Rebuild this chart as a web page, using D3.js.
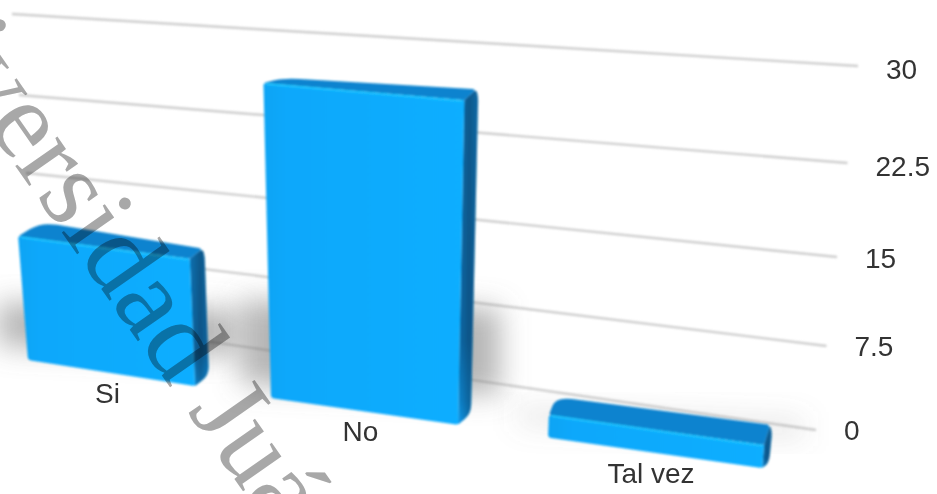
<!DOCTYPE html>
<html>
<head>
<meta charset="utf-8">
<script src="https://cdn.jsdelivr.net/npm/d3@7/dist/d3.min.js"></script>
<style>
html,body{margin:0;padding:0;background:#fff;overflow:hidden}
text{font-family:"Liberation Sans",Arial,sans-serif}
</style>
</head>
<body>
<svg id="chart" width="937" height="494"></svg>
<script>
// Survey answers
const categories = ["Si", "No", "Tal vez"];
const answers = [11, 28, 2];
const tickValues = [0, 7.5, 15, 22.5, 30];
const tickLabels = ["0", "7.5", "15", "22.5", "30"];
const watermark = "Universidad Juárez";

const svg = d3.select("#chart");

// The back wall is seen in perspective, so each end of a grid line has its own scale
const wallLeftY  = d3.scaleLinear().domain(tickValues).range([317, 248, 173, 95, 14]);
const wallRightY = d3.scaleLinear().domain(tickValues).range([430, 346, 257, 163, 66]);
const labelY     = d3.scaleLinear().domain(tickValues).range([440, 356, 268, 176, 79]);
const wallLeftX  = d3.scaleLinear().domain([0, 30]).range([40, 12]);
const wallRightX = d3.scaleLinear().domain([0, 30]).range([816, 858]);

// Bars stand on a floor line in front of the wall
const barLeft  = d3.scaleOrdinal().domain(categories).range([28, 271, 548]);
const barRight = d3.scaleOrdinal().domain(categories).range([195, 458, 762]);
const floorY   = d3.scaleLinear().domain([28, 271, 762]).range([360, 398, 468]);
const heightPx = d3.scaleLinear().domain([0, 28]).range([0, 315]);
const depthX   = d3.scaleOrdinal().domain(categories).range([15, 14, 8]);
const backLeftX = d3.scaleOrdinal().domain(categories).range([23, 20, 7]);
const depthTop = d3.scaleLinear().domain([2, 11, 28]).range([20, 10, 11]);
const backLeftY = d3.scaleLinear().domain([2, 11, 28]).range([18, 14, 5]);
const depthLow = d3.scaleLinear().domain([2, 11]).range([5, 11]).clamp(true);
const shadowH  = d3.scaleLinear().domain([2, 11, 28]).range([24, 52, 92]);
const vanishX = 375, lean = 0.00023;

function corner(cat, value, t, up) {
  const x = barLeft(cat) + (barRight(cat) - barLeft(cat)) * t;
  const h = up ? heightPx(value) * (1 + 0.03 * t) : 0;
  return [x + (x - vanishX) * lean * h, floorY(x) - h];
}

// Closed path whose corners are rounded by the given radii
function rounded(points, radii) {
  const n = points.length;
  let d = "";
  points.forEach((p, i) => {
    const a = points[(i - 1 + n) % n], b = points[(i + 1) % n], r = radii[i];
    const la = Math.hypot(a[0] - p[0], a[1] - p[1]), lb = Math.hypot(b[0] - p[0], b[1] - p[1]);
    const ra = Math.min(r, la / 2), rb = Math.min(r, lb / 2);
    const s = [p[0] + (a[0] - p[0]) * ra / la, p[1] + (a[1] - p[1]) * ra / la];
    const e = [p[0] + (b[0] - p[0]) * rb / lb, p[1] + (b[1] - p[1]) * rb / lb];
    d += (i ? "L" : "M") + s[0] + "," + s[1] + "Q" + p[0] + "," + p[1] + " " + e[0] + "," + e[1];
  });
  return d + "Z";
}

const defs = svg.append("defs");
defs.append("filter").attr("id", "soft").attr("x", "-50%").attr("y", "-50%").attr("width", "200%").attr("height", "200%")
  .append("feGaussianBlur").attr("stdDeviation", 14);
defs.append("filter").attr("id", "edge").attr("x", "-5%").attr("y", "-5%").attr("width", "110%").attr("height", "110%")
  .append("feGaussianBlur").attr("stdDeviation", 0.8);

const sideGrad = defs.append("linearGradient").attr("id", "sideFill").attr("x1", 0).attr("x2", 0).attr("y1", 0).attr("y2", 1);
[[0, "#0a72b2"], [0.75, "#0a6cab"], [0.93, "#0a86cf"], [1, "#0a9cf0"]]
  .forEach(s => sideGrad.append("stop").attr("offset", s[0]).attr("stop-color", s[1]));
const sideShade = defs.append("linearGradient").attr("id", "sideShade");
[[0, 0], [0.55, 0.4], [1, 0.12]]
  .forEach(s => sideShade.append("stop").attr("offset", s[0]).attr("stop-color", "#03304f").attr("stop-opacity", s[1]));
const frontGrad = defs.append("linearGradient").attr("id", "frontFill");
[[0, "#0ea4f4"], [0.12, "#0aa8fb"], [1, "#0aaeff"]]
  .forEach(s => frontGrad.append("stop").attr("offset", s[0]).attr("stop-color", s[1]));

// Grid lines and their value labels
const grid = svg.append("g");
grid.selectAll("line").data(tickValues).join("line")
  .attr("x1", wallLeftX).attr("y1", wallLeftY)
  .attr("x2", wallRightX).attr("y2", wallRightY)
  .attr("stroke", "#cfcfcf").attr("stroke-width", 2.4).attr("filter", "url(#edge)");
grid.selectAll("text").data(tickValues).join("text")
  .attr("x", d => wallRightX(d) + 28)
  .attr("y", labelY)
  .attr("font-size", 28).attr("fill", "#333")
  .text((d, i) => tickLabels[i]);

// Soft shadow thrown on the wall behind each bar
svg.append("g").selectAll("path").data(categories).join("path")
  .attr("d", (c, i) => {
    const v = answers[i], s = shadowH(v), l = barLeft(c) - 30, r = barRight(c) + 42;
    const yl = floorY(barLeft(c)), yr = floorY(barRight(c));
    return d3.line()([[l, yl - s - 6], [r, yr - s - 24], [r, yr - 30], [l, yl - 14]]) + "Z";
  })
  .attr("fill", "#7a7a7a")
  .attr("fill-opacity", (c, i) => i === 2 ? 0.2 : 0.55)
  .attr("filter", "url(#soft)");

// Bars: side, top and front faces
const bars = svg.append("g").selectAll("g").data(categories).join("g").attr("filter", "url(#edge)");

bars.each(function (c, i) {
  const v = answers[i], g = d3.select(this);
  const tl = corner(c, v, 0, true), tr = corner(c, v, 1, true);
  const bl = corner(c, v, 0, false), br = corner(c, v, 1, false);
  const dx = depthX(c), dt = depthTop(v), dl = depthLow(v);
  const backRight = [tr[0] + dx - 2, tr[1] - dt];
  const sidePts = [tr, backRight, [tr[0] + dx, tr[1] - dt + 8], [br[0] + dx - 1, br[1] - dl], br];

  g.append("path").attr("d", rounded(sidePts, [1, 4, 4, 9, 1])).attr("fill", "url(#sideFill)");
  g.append("path").attr("d", rounded(sidePts, [1, 4, 4, 9, 1])).attr("fill", "url(#sideShade)");
  g.append("path")
    .attr("d", rounded([tl, [tl[0] + backLeftX(c), tl[1] - backLeftY(v)], backRight, tr], [3, 16, 4, 1]))
    .attr("fill", "#0a83cf");
  g.append("path")
    .attr("d", rounded([tl, tr, br, bl], [2, 1, 2, 3]))
    .attr("fill", "url(#frontFill)");
  g.append("line")
    .attr("x1", tl[0] + 3).attr("y1", tl[1] + 1)
    .attr("x2", tr[0] - 2).attr("y2", tr[1] + 1)
    .attr("stroke", "#1cc4ff").attr("stroke-width", 1.8);
});

// Category names under the bars
svg.append("g").selectAll("text").data(categories).join("text")
  .attr("x", c => (barLeft(c) + barRight(c)) / 2 - 4)
  .attr("y", c => floorY((barLeft(c) + barRight(c)) / 2) + 30)
  .attr("text-anchor", "middle")
  .attr("font-size", 28).attr("fill", "#333")
  .text(c => c);

// Diagonal institution name laid over the whole chart
svg.append("text")
  .attr("transform", "translate(-143,-60) rotate(55)")
  .attr("font-size", 112)
  .attr("fill", "#a8a8a8")
  .style("font-family", '"Liberation Serif", serif')
  .style("mix-blend-mode", "multiply")
  .text(watermark);
</script>
</body>
</html>
